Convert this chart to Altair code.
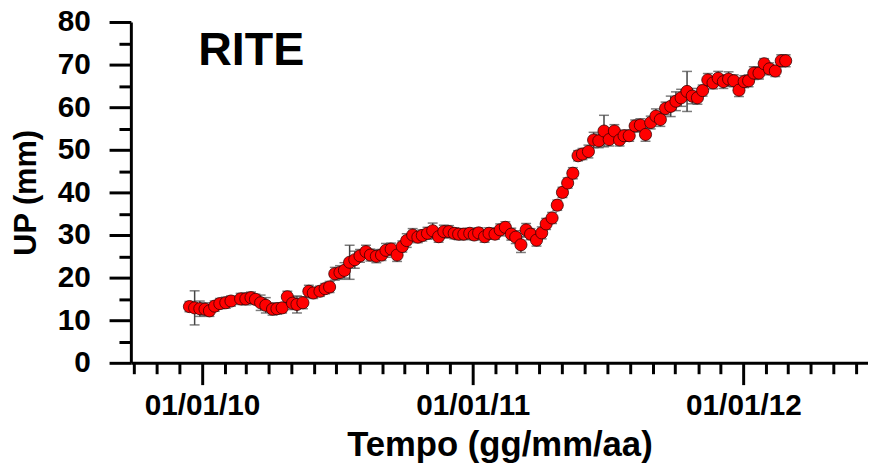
import altair as alt
import pandas as pd

dates = [
    "2009-12-15", "2009-12-22", "2009-12-29", "2010-01-05", "2010-01-11", "2010-01-18",
    "2010-01-25", "2010-02-02", "2010-02-09", "2010-02-22", "2010-03-01", "2010-03-08",
    "2010-03-14", "2010-03-21", "2010-03-28", "2010-04-06", "2010-04-12", "2010-04-19",
    "2010-04-26", "2010-05-03", "2010-05-09", "2010-05-17", "2010-05-25", "2010-05-31",
    "2010-06-09", "2010-06-16", "2010-06-22", "2010-06-29", "2010-07-06", "2010-07-12",
    "2010-07-19", "2010-07-26", "2010-08-02", "2010-08-10", "2010-08-16", "2010-08-24",
    "2010-08-31", "2010-09-06", "2010-09-13", "2010-09-21", "2010-09-28", "2010-10-04",
    "2010-10-12", "2010-10-19", "2010-10-25", "2010-11-01", "2010-11-08", "2010-11-16",
    "2010-11-23", "2010-11-30", "2010-12-07", "2010-12-13", "2010-12-20", "2010-12-28",
    "2011-01-03", "2011-01-09", "2011-01-17", "2011-01-23", "2011-01-31", "2011-02-07",
    "2011-02-14", "2011-02-22", "2011-02-28", "2011-03-07", "2011-03-14", "2011-03-20",
    "2011-03-28", "2011-04-04", "2011-04-10", "2011-04-18", "2011-04-25", "2011-05-02",
    "2011-05-09", "2011-05-16", "2011-05-23", "2011-05-29", "2011-06-06", "2011-06-13",
    "2011-06-20", "2011-06-27", "2011-07-04", "2011-07-11", "2011-07-18", "2011-07-24",
    "2011-07-31", "2011-08-08", "2011-08-15", "2011-08-22", "2011-08-29", "2011-09-05",
    "2011-09-11", "2011-09-18", "2011-09-25", "2011-10-02", "2011-10-09", "2011-10-17",
    "2011-10-24", "2011-10-31", "2011-11-07", "2011-11-14", "2011-11-21", "2011-11-28",
    "2011-12-05", "2011-12-12", "2011-12-19", "2011-12-26", "2012-01-02", "2012-01-08",
    "2012-01-15", "2012-01-22", "2012-01-29", "2012-02-05", "2012-02-13", "2012-02-21",
    "2012-02-27",
]

up = [
    13.2, 12.9, 12.7, 12.6, 12.2, 13.3,
    13.9, 14.1, 14.5, 15.0, 15.0, 15.3,
    14.9, 14.1, 13.5, 12.6, 12.7, 12.9,
    15.5, 14.0, 13.7, 14.1, 16.8, 16.4,
    16.8, 17.4, 17.8, 20.9, 21.2, 21.7,
    23.6, 24.2, 25.1, 26.1, 25.3, 25.0,
    25.3, 26.4, 26.7, 25.3, 27.3, 28.7,
    30.0, 29.5, 29.9, 30.4, 31.0, 29.6,
    30.8, 30.8, 30.4, 30.2, 30.2, 30.4,
    30.0, 30.5, 29.6, 30.4, 30.2, 31.2,
    31.8, 30.2, 29.5, 27.7, 31.2, 30.2,
    28.8, 30.5, 32.6, 34.0, 37.0, 40.0,
    42.2, 44.5, 48.6, 49.0, 49.6, 52.3,
    52.1, 54.4, 52.4, 54.4, 52.3, 53.3,
    53.3, 55.6, 55.8, 53.6, 56.4, 57.9,
    57.1, 59.7, 60.2, 61.4, 62.2, 63.7,
    62.6, 62.2, 63.9, 66.4, 65.7, 66.8,
    66.0, 66.6, 66.2, 64.0, 66.0, 66.2,
    68.0, 68.0, 70.2, 69.0, 68.5, 70.9,
    70.9,
]

err = [
    1.2, 4.0, 1.8, 1.5, 1.3, 1.2,
    1.2, 1.3, 1.2, 1.3, 1.4, 1.3,
    1.2, 1.8, 1.8, 1.4, 1.3, 1.2,
    1.3, 1.5, 2.0, 1.4, 1.4, 1.3,
    1.2, 1.2, 1.3, 1.5, 1.6, 1.8,
    4.0, 2.0, 1.5, 1.5, 1.4, 1.5,
    1.3, 1.6, 1.4, 1.5, 1.3, 1.6,
    1.5, 1.3, 1.3, 1.4, 1.8, 1.3,
    1.5, 1.4, 1.3, 1.3, 1.3, 1.2,
    1.2, 1.2, 1.3, 1.3, 1.2, 1.4,
    1.3, 1.4, 1.5, 1.8, 1.5, 1.3,
    1.4, 1.4, 1.3, 1.3, 1.2, 1.2,
    1.2, 1.3, 1.2, 1.3, 1.5, 1.8,
    1.6, 3.7, 1.5, 1.5, 1.4, 1.3,
    1.3, 1.4, 1.5, 1.6, 1.5, 1.7,
    1.6, 1.5, 2.4, 2.2, 2.0, 4.7,
    1.8, 1.5, 1.3, 1.5, 1.4, 1.6,
    1.6, 1.7, 1.4, 1.5, 1.4, 1.4,
    1.5, 1.4, 1.2, 1.4, 1.3, 1.4,
    1.4,
]

df = pd.DataFrame({
    "date": dates,
    "up": up,
    "lo": [u - e for u, e in zip(up, err)],
    "hi": [u + e for u, e in zip(up, err)],
})

FONT = "Liberation Sans"

x_ticks = []
for yr in (2009, 2010, 2011, 2012):
    for mo in range(1, 13):
        if (yr == 2009 and mo < 10) or (yr == 2012 and mo > 6):
            continue
        x_ticks.append(alt.DateTime(year=yr, month=mo, date=1, utc=True))

x_scale = alt.Scale(
    type="utc",
    domain=[alt.DateTime(year=2009, month=9, date=27, utc=True),
            alt.DateTime(year=2012, month=6, date=17, utc=True)],
)
y_scale = alt.Scale(domain=[0, 80], nice=False)

x_axis = alt.Axis(
    values=x_ticks,
    labelExpr="utcmonth(datum.value) === 0 ? utcFormat(datum.value, '%d/%m/%y') : ''",
    tickSize={"condition": {"test": "utcmonth(datum.value) === 0", "value": 22}, "value": 11},
    labelOverlap=False,
    labelPadding=6,
    labelFlush=False,
    title="Tempo (gg/mm/aa)",
    titlePadding=8,
)
y_axis = alt.Axis(
    values=list(range(0, 81, 5)),
    labelExpr="datum.value % 10 === 0 ? datum.label : ''",
    tickSize={"condition": {"test": "datum.value % 10 === 0", "value": 22}, "value": 12},
    labelOverlap=False,
    labelPadding=19,
    title="UP (mm)",
    titlePadding=15,
)

base = alt.Chart(df)

X = alt.X("date:T", scale=x_scale, axis=x_axis)

rules = base.mark_rule(color="#444444", strokeWidth=1.5).encode(
    x=X,
    y=alt.Y("lo:Q", scale=y_scale, axis=y_axis),
    y2="hi:Q",
)

caps = base.transform_fold(["lo", "hi"], as_=["k", "v"]).mark_tick(
    orient="horizontal", size=10, thickness=1.5, color="#444444"
).encode(
    x=X,
    y=alt.Y("v:Q", scale=y_scale, axis=y_axis),
)

points = base.mark_circle(
    color="#ff0000", stroke="#3a0000", strokeWidth=0.8, size=150, opacity=1
).encode(
    x=X,
    y=alt.Y("up:Q", scale=y_scale, axis=y_axis),
)

label = alt.Chart(pd.DataFrame({"t": ["RITE"]})).mark_text(
    align="left", baseline="alphabetic", font=FONT, fontSize=47, fontWeight="bold", color="black"
).encode(text="t:N", x=alt.value(68), y=alt.value(43))

chart = alt.layer(rules, caps, points, label).properties(
    width=744,
    height=344,
    autosize="none",
    padding={"left": 124, "top": 12, "right": 0, "bottom": 100},
).configure_view(stroke=None).configure_axis(
    grid=False,
    domainColor="black",
    domainWidth=3,
    tickColor="black",
    tickWidth=3,
    labelFont=FONT,
    labelFontSize=30,
    labelFontWeight="bold",
    labelColor="black",
    titleFont=FONT,
    titleFontWeight="bold",
    titleColor="black",
).configure_axisX(
    titleFontSize=35,
).configure_axisY(
    titleFontSize=31,
)

chart.save("out.html", embed_options={"renderer": "svg", "actions": False})
